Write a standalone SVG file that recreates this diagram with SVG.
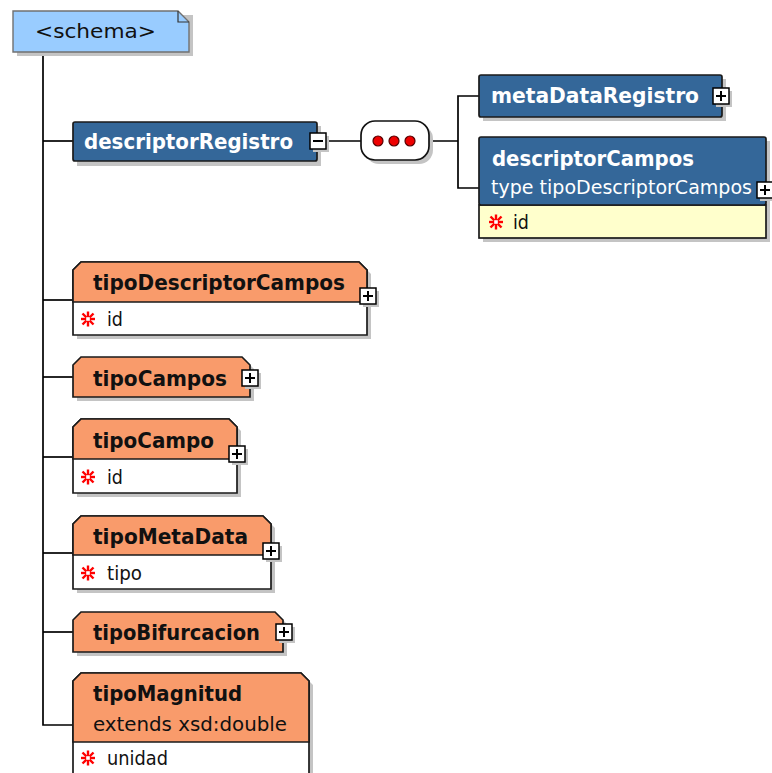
<svg xmlns="http://www.w3.org/2000/svg" width="772" height="773" viewBox="0 0 772 773">
<defs>
<style>
.sh{fill:#c4c4c4;stroke:none}
.conn{stroke:#000;stroke-width:1.7;fill:none}
.el{fill:#346799;stroke:#1a1a1a;stroke-width:1.7}
.ct{fill:#f99b6b;stroke:#1a1a1a;stroke-width:1.7}
.ctb{fill:#ffffff;stroke:#1a1a1a;stroke-width:1.7}
.attrY{fill:#ffffcc;stroke:#1a1a1a;stroke-width:1.7}
.btn{fill:#fff;stroke:#000;stroke-width:1.5}
.bl{stroke:#000;stroke-width:2}
.tw{font-family:"DejaVu Sans","Liberation Sans",sans-serif;font-weight:bold;font-size:21px;fill:#ffffff}
.tws{font-family:"DejaVu Sans","Liberation Sans",sans-serif;font-size:20px;fill:#ffffff}
.tb{font-family:"DejaVu Sans","Liberation Sans",sans-serif;font-weight:bold;font-size:21px;fill:#111}
.tn{font-family:"DejaVu Sans","Liberation Sans",sans-serif;font-size:20px;fill:#111}
.ast{stroke:#ff0000;stroke-width:2.4;fill:none}
</style>
<g id="plus"><rect x="0" y="0" width="16" height="16" class="btn"/><line x1="3" y1="8" x2="13" y2="8" class="bl"/><line x1="8" y1="3" x2="8" y2="13" class="bl"/></g>
<g id="plusSh"><rect x="3" y="3" width="16" height="16" class="sh"/></g>
<g id="asterisk"><line x1="0" y1="-7.5" x2="0" y2="7.5" class="ast"/><line x1="-7" y1="0" x2="7" y2="0" class="ast"/><line x1="-5.5" y1="-5.5" x2="5.5" y2="5.5" class="ast"/><line x1="-5.5" y1="5.5" x2="5.5" y2="-5.5" class="ast"/><rect x="-1.8" y="-1.8" width="3.6" height="3.6" fill="#fff"/></g>
</defs>
<rect x="0" y="0" width="772" height="773" fill="#ffffff"/>

<g id="connectors">
<path class="conn" d="M43,52 V725 H73"/>
<path class="conn" d="M43,141 H73"/>
<path class="conn" d="M43,300 H73"/>
<path class="conn" d="M43,377 H73"/>
<path class="conn" d="M43,457 H73"/>
<path class="conn" d="M43,553 H73"/>
<path class="conn" d="M43,632 H73"/>
<path class="conn" d="M326,141 H361"/>
<path class="conn" d="M429,141 H458 M479,96 H458 V188 H479"/>
</g>

<g id="schema">
<path class="sh" d="M17,15 H193 V56 H17 Z"/>
<path d="M13,11 H178 L189,22 V52 H13 Z" fill="#99ccff" stroke="#707070" stroke-width="1.4"/>
<path d="M178,11 V22 H189" fill="none" stroke="#333" stroke-width="1.2"/>
<text x="35" y="38" class="tn" font-size="22" textLength="121" lengthAdjust="spacingAndGlyphs">&lt;schema&gt;</text>
</g>

<g id="descriptorRegistro">
<rect x="77" y="126" width="244" height="40" class="sh"/>
<rect x="73" y="122" width="244" height="39" rx="2" class="el"/>
<text x="84" y="149" class="tw" textLength="209" lengthAdjust="spacingAndGlyphs">descriptorRegistro</text>
<rect x="313" y="136" width="16" height="16" class="sh"/>
<rect x="310" y="133" width="16" height="16" class="btn"/>
<line x1="313" y1="141" x2="323" y2="141" class="bl"/>
</g>

<g id="sequence">
<rect x="365" y="125" width="68" height="39" rx="14" class="sh"/>
<rect x="361" y="121" width="68" height="39" rx="14" fill="#fff" stroke="#111" stroke-width="1.7"/>
<circle cx="378" cy="141" r="5" fill="#ee0000" stroke="#550000" stroke-width="1.2"/>
<circle cx="394" cy="141" r="5" fill="#ee0000" stroke="#550000" stroke-width="1.2"/>
<circle cx="410" cy="141" r="5" fill="#ee0000" stroke="#550000" stroke-width="1.2"/>
</g>

<g id="metaDataRegistro">
<rect x="483" y="79" width="243" height="42" class="sh"/>
<rect x="479" y="75" width="243" height="42" rx="2" class="el"/>
<text x="491" y="103" class="tw" textLength="208" lengthAdjust="spacingAndGlyphs">metaDataRegistro</text>
<use href="#plusSh" x="713" y="88"/>
<use href="#plus" x="713" y="88"/>
</g>

<g id="descriptorCampos">
<rect x="483" y="141" width="287" height="101" class="sh"/>
<rect x="479" y="205" width="287" height="33" class="attrY"/>
<rect x="479" y="137" width="287" height="68" rx="2" class="el"/>
<text x="492" y="166" class="tw" textLength="202" lengthAdjust="spacingAndGlyphs">descriptorCampos</text>
<text x="491" y="194" class="tws" textLength="261" lengthAdjust="spacingAndGlyphs">type tipoDescriptorCampos</text>
<use href="#plusSh" x="757" y="182"/>
<use href="#plus" x="757" y="182"/>
<use href="#asterisk" x="496" y="222"/>
<text x="513" y="229" class="tn" textLength="16" lengthAdjust="spacingAndGlyphs">id</text>
</g>

<g id="tipoDescriptorCampos">
<path class="sh" d="M77,274 L85,266 H363 L371,274 V339 H77 Z"/>
<path class="ctb" d="M73,270 L81,262 H359 L367,270 V335 H73 Z"/>
<path class="ct" d="M73,270 L81,262 H359 L367,270 V302 H73 Z"/>
<text x="93" y="290" class="tb" textLength="252" lengthAdjust="spacingAndGlyphs">tipoDescriptorCampos</text>
<use href="#plusSh" x="360" y="288"/>
<use href="#plus" x="360" y="288"/>
<use href="#asterisk" x="88" y="319"/>
<text x="107" y="326" class="tn" textLength="16" lengthAdjust="spacingAndGlyphs">id</text>
</g>

<g id="tipoCampos">
<path class="sh" d="M77,369 L85,361 H246 L254,369 V401 H77 Z"/>
<path class="ct" d="M73,365 L81,357 H242 L250,365 V397 H73 Z"/>
<text x="93" y="386" class="tb" textLength="134" lengthAdjust="spacingAndGlyphs">tipoCampos</text>
<use href="#plusSh" x="242" y="370"/>
<use href="#plus" x="242" y="370"/>
</g>

<g id="tipoCampo">
<path class="sh" d="M77,431 L85,423 H233 L241,431 V497 H77 Z"/>
<path class="ctb" d="M73,427 L81,419 H229 L237,427 V493 H73 Z"/>
<path class="ct" d="M73,427 L81,419 H229 L237,427 V459 H73 Z"/>
<text x="93" y="448" class="tb" textLength="121" lengthAdjust="spacingAndGlyphs">tipoCampo</text>
<use href="#plusSh" x="229" y="446"/>
<use href="#plus" x="229" y="446"/>
<use href="#asterisk" x="88" y="477"/>
<text x="107" y="484" class="tn" textLength="16" lengthAdjust="spacingAndGlyphs">id</text>
</g>

<g id="tipoMetaData">
<path class="sh" d="M77,528 L85,520 H267 L275,528 V593 H77 Z"/>
<path class="ctb" d="M73,524 L81,516 H263 L271,524 V589 H73 Z"/>
<path class="ct" d="M73,524 L81,516 H263 L271,524 V555 H73 Z"/>
<text x="93" y="544" class="tb" textLength="155" lengthAdjust="spacingAndGlyphs">tipoMetaData</text>
<use href="#plusSh" x="263" y="543"/>
<use href="#plus" x="263" y="543"/>
<use href="#asterisk" x="88" y="573"/>
<text x="107" y="580" class="tn" textLength="35" lengthAdjust="spacingAndGlyphs">tipo</text>
</g>

<g id="tipoBifurcacion">
<path class="sh" d="M77,624 L85,616 H279 L287,624 V656 H77 Z"/>
<path class="ct" d="M73,620 L81,612 H275 L283,620 V652 H73 Z"/>
<text x="93" y="640" class="tb" textLength="167" lengthAdjust="spacingAndGlyphs">tipoBifurcacion</text>
<use href="#plusSh" x="276" y="624"/>
<use href="#plus" x="276" y="624"/>
</g>

<g id="tipoMagnitud">
<path class="sh" d="M77,685 L85,677 H305 L313,685 V800 H77 Z"/>
<path class="ctb" d="M73,681 L81,673 H301 L309,681 V800 H73 Z"/>
<path class="ct" d="M73,681 L81,673 H301 L309,681 V742 H73 Z"/>
<text x="93" y="701" class="tb" textLength="149" lengthAdjust="spacingAndGlyphs">tipoMagnitud</text>
<text x="93" y="731" class="tn" textLength="194" lengthAdjust="spacingAndGlyphs">extends xsd:double</text>
<use href="#asterisk" x="88" y="758"/>
<text x="107" y="765" class="tn" textLength="61" lengthAdjust="spacingAndGlyphs">unidad</text>
</g>
</svg>
